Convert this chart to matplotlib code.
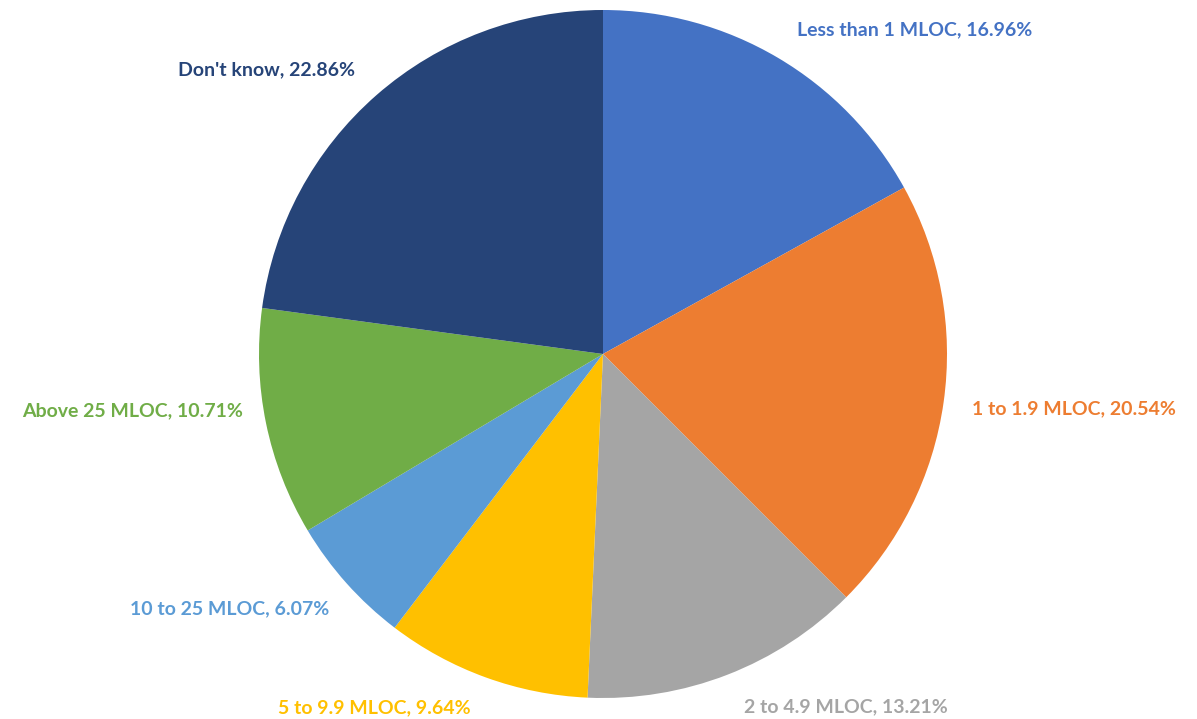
import matplotlib
matplotlib.use("Agg")
import matplotlib.pyplot as plt

categories = ["Less than 1 MLOC", "1 to 1.9 MLOC", "2 to 4.9 MLOC", "5 to 9.9 MLOC",
              "10 to 25 MLOC", "Above 25 MLOC", "Don't know"]
values = [16.96, 20.54, 13.21, 9.64, 6.07, 10.71, 22.86]
colors = ["#4472C4", "#ED7D31", "#A5A5A5", "#FFC000", "#5B9BD5", "#70AD47", "#264478"]

# label anchor positions (pixel coords from top-left, left edge, vertical center)
label_pos = [(797, 30), (972, 409), (744, 707), (278, 708), (130, 609), (22, 411), (178, 70)]

W, H = 1197, 719
fig = plt.figure(figsize=(W / 100, H / 100), dpi=100)
ax = fig.add_axes([0, 0, 1, 1])

ax.pie(values, colors=colors, startangle=90, counterclock=False,
       center=(603, H - 354), radius=344,
       wedgeprops=dict(linewidth=0), frame=True)
ax.set_xlim(0, W)
ax.set_ylim(0, H)
ax.set_aspect("equal")
ax.axis("off")

for cat, v, c, (x, y) in zip(categories, values, colors, label_pos):
    ax.text(x, H - y, f"{cat}, {v:.2f}%", color=c, fontsize=14, fontweight="bold",
            family=["Lato", "DejaVu Sans"], ha="left", va="center")

fig.savefig("out.png", dpi=100)
